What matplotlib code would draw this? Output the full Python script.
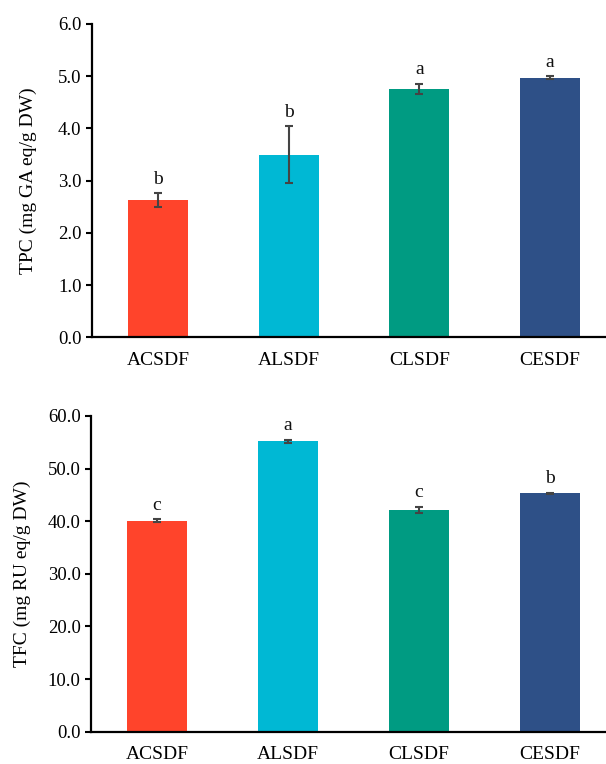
import matplotlib
matplotlib.use("Agg")
import matplotlib.pyplot as plt
from matplotlib.ticker import FormatStrFormatter, MultipleLocator
from matplotlib.transforms import blended_transform_factory

categories = ["ACSDF", "ALSDF", "CLSDF", "CESDF"]
colors = ["#FF442B", "#00B8D4", "#009B82", "#2E5087"]

tpc_values = [2.63, 3.50, 4.75, 4.97]
tpc_errors = [0.13, 0.54, 0.10, 0.03]
tpc_letters = ["b", "b", "a", "a"]

tfc_values = [40.1, 55.2, 42.1, 45.3]
tfc_errors = [0.3, 0.25, 0.6, 0.1]
tfc_letters = ["c", "a", "c", "b"]

plt.rcParams['font.family'] = ['Liberation Serif', 'DejaVu Serif']

W, H = 606, 764
fig = plt.figure(figsize=(W / 100, H / 100), dpi=100)
ax1 = fig.add_axes([92 / W, 1 - 337.3 / H, 1 - 92 / W, (337.3 - 24) / H])
ax2 = fig.add_axes([91 / W, 1 - 731.7 / H, 1 - 91 / W, (731.7 - 416) / H])

FS = 13.5
FL = 14

def draw(ax, vals, errs, letters, ylabel, ymax, step, label_x):
    x = list(range(len(categories)))
    ax.bar(x, vals, width=0.46, color=colors, zorder=2)
    ax.errorbar(x, vals, yerr=errs, fmt='none', ecolor='#444444',
                elinewidth=1.5, capsize=3, capthick=1.5, zorder=3)
    for xi, v, e, l in zip(x, vals, errs, letters):
        ax.annotate(l, (xi, v + e), xytext=(0, 4), textcoords='offset points',
                    ha='center', va='bottom', fontsize=FL, color='#111111')
    ax.set_xlim(-0.505, 3.43)
    ax.set_ylim(0, ymax)
    ax.yaxis.set_major_locator(MultipleLocator(step))
    ax.yaxis.set_major_formatter(FormatStrFormatter('%.1f'))
    ax.set_xticks(x)
    ax.set_xticklabels(categories)
    ax.spines['top'].set_visible(False)
    ax.spines['right'].set_visible(False)
    ax.spines['left'].set_linewidth(1.6)
    ax.spines['bottom'].set_linewidth(1.6)
    ax.tick_params(axis='y', direction='out', length=4.5, width=1.5,
                   labelsize=FS, pad=3)
    ax.tick_params(axis='x', length=0, labelsize=FL, pad=10.5)
    ax.set_ylabel(ylabel, fontsize=FL)
    ax.yaxis.set_label_coords(label_x / W, 0.5,
                              transform=blended_transform_factory(fig.transFigure, ax.transAxes))

draw(ax1, tpc_values, tpc_errors, tpc_letters, "TPC (mg GA eq/g DW)", 6.0, 1.0, 37)
draw(ax2, tfc_values, tfc_errors, tfc_letters, "TFC (mg RU eq/g DW)", 60.0, 10.0, 31)

fig.savefig("out.png", dpi=100)
